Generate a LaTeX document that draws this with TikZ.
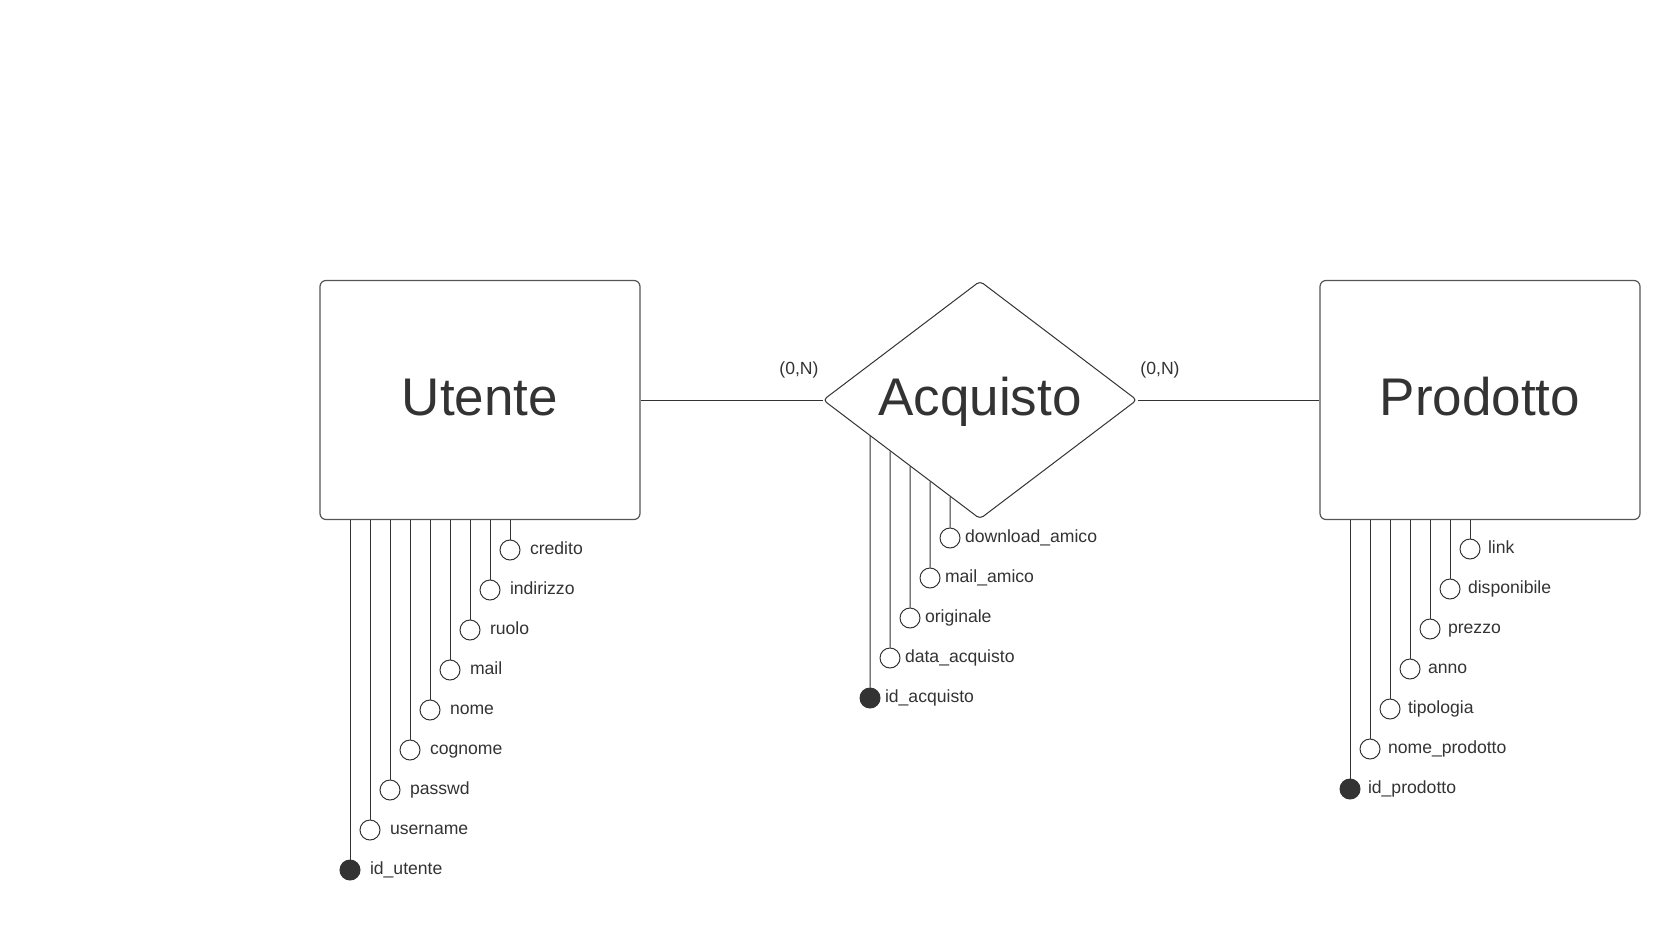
\documentclass[tikz,border=0pt]{standalone}
\usepackage{fontspec}
\setmainfont{Liberation Sans}
\usetikzlibrary{shapes.geometric}
\definecolor{ink}{HTML}{333333}
\definecolor{frame}{HTML}{555555}
\tikzset{
    entity/.style={draw=frame, line width=1.2pt, rounded corners=6pt,
        minimum width=320pt, minimum height=239pt, text=ink,
        font=\fontsize{53}{60}\selectfont, text height=38pt, text depth=8pt},
    relation/.style={shape=diamond, draw=ink, line width=1pt, rounded corners=4pt,
        minimum width=314pt, minimum height=238pt, aspect=1.32, inner sep=0pt, text=ink,
        font=\fontsize{53}{60}\selectfont, text height=38pt, text depth=8pt},
    attr/.style={circle, draw=ink, line width=1pt, fill=white, minimum size=20pt, inner sep=0pt},
    key/.style={attr, fill=ink},
    lbl/.style={font=\fontsize{17.6}{20}\selectfont, text=ink, inner sep=2pt,
        text height=13pt, text depth=4pt},
}
\begin{document}
\begin{tikzpicture}[x=1pt, y=-1pt, line width=1pt, color=ink]
    \useasboundingbox (0,0) rectangle (1680,939);
    \node[entity] (utente) at (480,400) {Utente};
    \node[relation] (acquisto) at (980,400) {Acquisto};
    \node[entity] (prodotto) at (1480,400) {Prodotto};
    \draw (utente) -- (acquisto);
    \draw (acquisto) -- (prodotto);
    \node[lbl] (cardU) at (799,370) {(0,N)};
    \node[lbl] (cardP) at (1160,370) {(0,N)};
    % attributi Utente
    \begin{scope}[label distance=7pt]
        \node[key, label={[lbl]right:id\_utente}] (u0) at (350,870) {};
        \draw (u0) -- (u0 |- utente.south);
        \foreach \n [count=\k] in {username, passwd, cognome, nome, mail, ruolo, indirizzo, credito}
            { \node[attr, label={[lbl]right:\n}] (u\k) at (350+20*\k,870-40*\k) {};
              \draw (u\k) -- (u\k |- utente.south); }
    \end{scope}
    % attributi Acquisto
    \begin{scope}[label distance=2pt]
        \node[key, label={[lbl]right:id\_acquisto}] (a0) at (870,698) {};
        \draw (a0) -- (intersection of acquisto.west--acquisto.south and a0.center--a0.north);
        \foreach \n [count=\k] in {data\_acquisto, originale, mail\_amico, download\_amico}
            { \node[attr, label={[lbl]right:\n}] (a\k) at (870+20*\k,698-40*\k) {};
              \draw (a\k) -- (intersection of acquisto.west--acquisto.south and a\k.center--a\k.north); }
    \end{scope}
    % attributi Prodotto
    \begin{scope}[label distance=5pt]
        \node[key, label={[lbl]right:id\_prodotto}] (p0) at (1350,789) {};
        \draw (p0) -- (p0 |- prodotto.south);
        \foreach \n [count=\k] in {nome\_prodotto, tipologia, anno, prezzo, disponibile, link}
            { \node[attr, label={[lbl]right:\n}] (p\k) at (1350+20*\k,789-40*\k) {};
              \draw (p\k) -- (p\k |- prodotto.south); }
    \end{scope}
\end{tikzpicture}
\end{document}
